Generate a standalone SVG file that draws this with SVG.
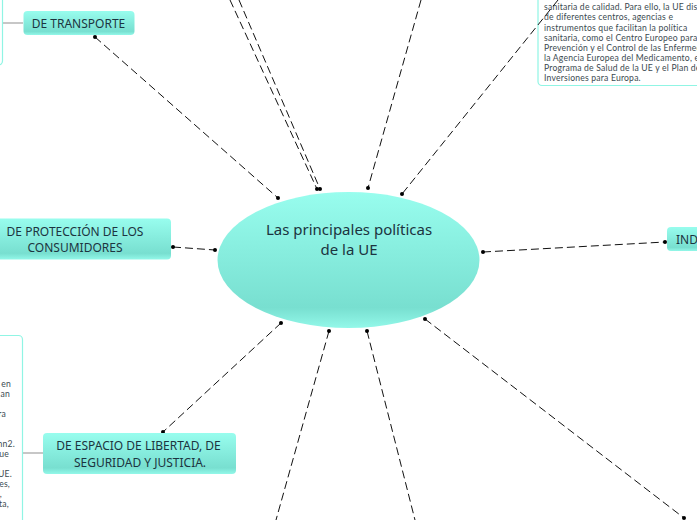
<svg xmlns="http://www.w3.org/2000/svg" width="697" height="520" viewBox="0 0 697 520">
<style>
.c{fill:none;stroke:#111;stroke-width:1;stroke-dasharray:8 4}
.g{fill:none;stroke:#b5b5b5;stroke-width:1.3}
.d{fill:#000}
.n{fill:url(#grad);}
.box{fill:#fff;stroke:#90f5e4;stroke-width:1.2}
.t{font-family:"Noto Sans",sans-serif;font-size:12px;fill:#1c3440;text-anchor:middle}
.b{font-family:"Lato",sans-serif;font-size:8.600px;letter-spacing:.2px;fill:#3b4a50}
</style>
<defs>
<linearGradient id="grad" x1="0" y1="0" x2="0" y2="1">
<stop offset="0" stop-color="#98fdee"/><stop offset="0.85" stop-color="#78dfd0"/><stop offset="1" stop-color="#93f8e9"/>
</linearGradient>
</defs>
<g id="transporte-note"><rect class="box" x="-20" y="-10" width="22.500" height="75" rx="4"/></g>
<g id="sanidad-note">
<rect class="box" x="538" y="-20" width="180" height="105.500" rx="4"/>
<text class="b" x="544" y="10">sanitaria de calidad. Para ello, la UE disp</text>
<text class="b" x="544" y="20">de diferentes centros, agencias e</text>
<text class="b" x="544" y="30.500">instrumentos que facilitan la política</text>
<text class="b" x="544" y="41">sanitaria, como el Centro Europeo para</text>
<text class="b" x="544" y="51">Prevención y el Control de las Enfermed</text>
<text class="b" x="544" y="61">la Agencia Europea del Medicamento, el</text>
<text class="b" x="544" y="71">Programa de Salud de la UE y el Plan de</text>
<text class="b" x="544" y="80.500">Inversiones para Europa.</text>
</g>
<g id="espacio-note">
<rect class="box" x="-20" y="335.500" width="42.500" height="200" rx="4"/>
<g style="text-anchor:end">
<text class="b" x="11" y="387">en</text>
<text class="b" x="10" y="397">an</text>
<text class="b" x="6" y="417">ra</text>
<text class="b" x="15" y="447">nn2.</text>
<text class="b" x="9" y="457">que</text>
<text class="b" x="12" y="477">UE.</text>
<text class="b" x="10" y="487">es,</text>
<text class="b" x="2" y="497">,</text>
<text class="b" x="9" y="507">ta,</text>
</g>
</g>
<g id="connectors">
<path class="g" d="M3 23H23M23 453H43"/>
<path class="c" d="M95 37L278 198"/>
<path class="c" d="M230 0L317 189"/>
<path class="c" d="M239 0L320 189"/>
<path class="c" d="M421 0L368 188"/>
<path class="c" d="M558 0L402 194"/>
<path class="c" d="M173 247L215 250"/>
<path class="c" d="M483 252L665 242"/>
<path class="c" d="M281 323L163 432"/>
<path class="c" d="M329 331L276 520"/>
<path class="c" d="M367 331L415 520"/>
<path class="c" d="M425 319L684 518"/>
<g class="d">
<circle cx="95" cy="37" r="2"/><circle cx="278" cy="198" r="2"/><circle cx="317" cy="189" r="2"/><circle cx="320" cy="189" r="2"/>
<circle cx="368" cy="188" r="2"/><circle cx="402" cy="194" r="2"/><circle cx="173" cy="247" r="2"/><circle cx="215" cy="250" r="2"/>
<circle cx="483" cy="252" r="2"/><circle cx="665" cy="242" r="2"/><circle cx="281" cy="323" r="2"/><circle cx="163" cy="432" r="2"/>
<circle cx="329" cy="331" r="2"/><circle cx="367" cy="331" r="2"/><circle cx="425" cy="319" r="2"/><circle cx="684" cy="518" r="2"/>
</g>
</g>
<g id="central">
<ellipse class="n" cx="348.500" cy="260" rx="131" ry="68"/>
<text class="t" style="font-size:15px" x="349" y="235">Las principales políticas</text>
<text class="t" style="font-size:15px" x="349" y="255">de la UE</text>
</g>
<g id="transporte"><rect class="n" x="23.500" y="11" width="111" height="24" rx="4"/><text class="t" x="78.500" y="28">DE TRANSPORTE</text></g>
<g id="consumidores"><rect class="n" x="-10" y="218.500" width="181" height="41" rx="4"/><text class="t" x="75" y="236">DE PROTECCIÓN DE LOS</text><text class="t" x="75" y="252">CONSUMIDORES</text></g>
<g id="industria"><rect class="n" x="667" y="227" width="40" height="24" rx="4"/><text class="t" style="text-anchor:start" x="676" y="244">IND</text></g>
<g id="espacio"><rect class="n" x="43" y="433" width="193" height="41" rx="4"/><text class="t" x="138.500" y="449.500">DE ESPACIO DE LIBERTAD, DE</text><text class="t" x="140" y="466.500">SEGURIDAD Y JUSTICIA.</text></g>
</svg>
